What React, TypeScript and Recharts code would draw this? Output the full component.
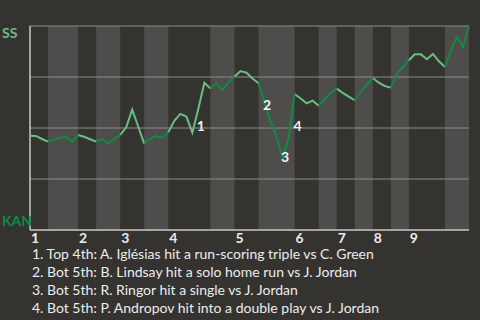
import React from 'react';
import { LineChart, Line, XAxis, YAxis, ReferenceArea, ReferenceLine, ReferenceDot } from 'recharts';

// Win probability (SS side, 0 = KAN, 1 = SS) after each play
const winProb = [
  0.462, 0.461, 0.446, 0.433, 0.443, 0.452, 0.456, 0.433, 0.466, 0.457,
  0.445, 0.433, 0.446, 0.425, 0.446, 0.466, 0.503, 0.590, 0.506, 0.423,
  0.446, 0.462, 0.452, 0.479, 0.535, 0.569, 0.556, 0.477, 0.596, 0.722,
  0.694, 0.719, 0.686, 0.722, 0.752, 0.779, 0.771, 0.743, 0.719, 0.629,
  0.531, 0.457, 0.351, 0.449, 0.667, 0.645, 0.621, 0.634, 0.609, 0.641,
  0.672, 0.693, 0.672, 0.654, 0.636, 0.680, 0.712, 0.745, 0.722, 0.706,
  0.698, 0.766, 0.799, 0.832, 0.861, 0.861, 0.837, 0.863, 0.827, 0.799,
  0.881, 0.946, 0.897, 1.0,
];

// play index where each half-inning begins/ends (top 1st, bot 1st, top 2nd, ...)
const halfInningBounds = [0, 3, 8, 11, 15, 19, 23, 30, 34, 38, 44, 48, 51, 54, 57, 60, 63, 69, 73];
const inningLabels = ['1', '2', '3', '4', '5', '6', '7', '8', '9'];

const teamTop = 'SS';
const teamBottom = 'KAN';

// annotation markers (data coords)
const annotationNums = ['1', '2', '3', '4'];
const annotationX = [28.4, 39.4, 42.4, 44.5];
const annotationY = [0.511, 0.613, 0.359, 0.511];

const annotationTexts = [
  '1. Top 4th: A. Iglésias hit a run-scoring triple vs C. Green',
  '2. Bot 5th: B. Lindsay hit a solo home run vs J. Jordan',
  '3. Bot 5th: R. Ringor hit a single vs J. Jordan',
  '4. Bot 5th: P. Andropov hit into a double play vs J. Jordan',
];

const gridValues = [0.25, 0.5, 0.75, 1];

const BG = '#353330';
const BAND = '#4e4d4b';
const GRID = '#8e8d8a';
const AXIS = '#c8c8c6';
const LIGHT_GREEN = '#6cbd84';
const DARK_GREEN = '#118a43';
const TEXT = '#ececec';
const FONT = 'Lato, "Noto Sans", sans-serif';

const lastIndex = halfInningBounds[halfInningBounds.length - 1];
const inningStarts = halfInningBounds.filter((_, i) => i % 2 === 0 && i < halfInningBounds.length - 1);

function inHalf(k: number, parity: number) {
  for (let h = parity; h < halfInningBounds.length - 1; h += 2) {
    if (k >= halfInningBounds[h] && k <= halfInningBounds[h + 1]) return true;
  }
  return false;
}

const data = winProb.map((v, k) => ({
  i: k,
  top: inHalf(k, 0) ? v : null,
  bot: inHalf(k, 1) ? v : null,
}));

const bottomBands: { x1: number; x2: number }[] = [];
for (let h = 1; h < halfInningBounds.length - 1; h += 2) {
  bottomBands.push({ x1: halfInningBounds[h], x2: halfInningBounds[h + 1] });
}

const InningTick = (props: any) => {
  const { x, y, payload } = props;
  const idx = inningStarts.indexOf(payload.value);
  return (
    <text x={x + 1} y={y + 13} textAnchor="start" fill={TEXT} fontSize={14} fontWeight={700} fontFamily={FONT}>
      {idx >= 0 ? inningLabels[idx] : ''}
    </text>
  );
};

export default function App() {
  return (
    <div style={{ position: 'absolute', left: 0, top: 0, width: 480, height: 320, background: BG, fontFamily: FONT }}>
      <LineChart width={480} height={320} data={data} margin={{ top: 26, right: 11, bottom: 70, left: 30 }}>
        <XAxis
          dataKey="i"
          type="number"
          domain={[0, lastIndex]}
          ticks={inningStarts}
          interval={0}
          tick={<InningTick />}
          tickLine={false}
          tickSize={0}
          tickMargin={0}
          height={20}
          axisLine={{ stroke: AXIS, strokeWidth: 1.5 }}
        />
        <YAxis type="number" domain={[0, 1]} hide />
        {bottomBands.map((b, i) => (
          <ReferenceArea key={'b' + i} x1={b.x1} x2={b.x2} y1={0} y2={1} fill={BAND} fillOpacity={1} stroke="none" />
        ))}
        {gridValues.map((g) => (
          <ReferenceLine key={'g' + g} y={g} stroke={GRID} strokeWidth={1} />
        ))}
        <ReferenceLine x={0} stroke={AXIS} strokeWidth={1.5} />
        <Line type="linear" dataKey="top" stroke={LIGHT_GREEN} strokeWidth={2} dot={false} isAnimationActive={false} connectNulls={false} />
        <Line type="linear" dataKey="bot" stroke={DARK_GREEN} strokeWidth={2} dot={false} isAnimationActive={false} connectNulls={false} />
        {annotationNums.map((n, i) => (
          <ReferenceDot
            key={'a' + n}
            x={annotationX[i]}
            y={annotationY[i]}
            r={0}
            fill="none"
            stroke="none"
            label={{ value: n, position: 'center', fill: '#f2f2f2', fontSize: 14, fontWeight: 700, fontFamily: FONT }}
          />
        ))}
      </LineChart>
      <svg width={480} height={320} style={{ position: 'absolute', left: 0, top: 0, pointerEvents: 'none' }}>
        <text x={2} y={37.5} fill={LIGHT_GREEN} fontSize={14} fontWeight={700} fontFamily={FONT}>{teamTop}</text>
        <text x={2} y={226} fill={DARK_GREEN} fontSize={14} fontWeight={700} fontFamily={FONT}>{teamBottom}</text>
        {annotationTexts.map((t, i) => (
          <text key={'t' + i} x={32} y={259 + i * 18} fill={TEXT} fontSize={14} fontFamily={FONT}>{t}</text>
        ))}
      </svg>
    </div>
  );
}
